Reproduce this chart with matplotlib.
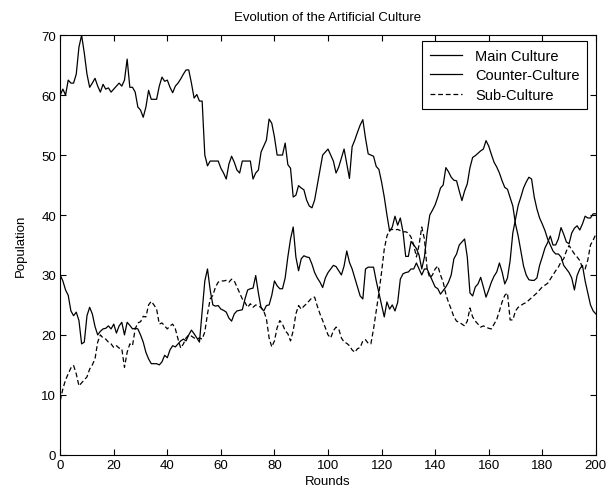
import matplotlib
matplotlib.use('Agg')
import matplotlib.pyplot as plt
import numpy as np

# population per round
main_culture = [
    60, 61, 60, 62.5, 62, 62, 63.5, 68, 70, 67,
    63.5, 61.3, 62, 62.8, 61.5, 60.5, 61.8, 61, 61.2, 60.5,
    61, 61.5, 62, 61.5, 62.5, 66, 61.3, 61.3, 60.5, 58,
    57.5, 56.3, 58, 60.8, 59.3, 59.3, 59.3, 61.5, 63, 62.3,
    62.5, 61.3, 60.4, 61.5, 62, 62.7, 63.5, 64.2, 64.2, 62,
    59.5, 60.1, 59, 59, 50, 48.2, 49, 49, 49, 49,
    47.8, 47, 46, 48.5, 49.8, 48.8, 47.5, 47, 49, 49,
    49, 49, 46, 47, 47.5, 50.5, 51.5, 52.5, 56, 55.3,
    53, 50, 50, 50, 52, 48.4, 47.8, 43, 43.3, 44.9,
    44.5, 44.2, 42.5, 41.5, 41.2, 42.5, 45, 47.6, 50, 50.5,
    51, 50, 49, 47, 48, 49.5, 51, 48.6, 46.1, 51.4,
    52.5, 53.8, 55, 55.9, 52.8, 50.2, 50, 49.8, 48.1, 47.6,
    45.5, 43, 40, 37.3, 38, 39.8, 38.3, 39.5, 37.2, 33.1,
    33.1, 35.6, 35, 34.4, 33.3, 31, 33, 37, 40, 40.8,
    41.7, 43, 44.5, 45, 47.9, 47.2, 46.3, 45.8, 45.7, 44,
    42.4, 44, 45.2, 47.9, 49.6, 49.9, 50.3, 50.7, 51, 52.4,
    51.5, 50.1, 48.8, 48, 47, 45.7, 44.6, 44.3, 42.9, 41.5,
    38.5, 36.5, 34, 31.5, 30, 29.2, 29.1, 29.1, 29.5, 31.6,
    33, 34.5, 35.4, 36.5, 35, 35, 36, 37.9, 36.8, 35.5,
    35.2, 37, 37.8, 38.2, 37.5, 38.5, 39.8, 39.5, 39.5, 40.2,
    40.2]

counter_culture = [
    30, 29, 27.5, 26.6, 24, 23.2, 23.8, 22.4, 18.5, 18.8,
    23.2, 24.6, 23.5, 21.4, 20, 20.6, 21, 21.1, 21.5, 21,
    21.8, 20.3, 21.5, 22.1, 20, 22.1, 21.6, 21, 21.1, 21,
    20, 18.8, 17.1, 16, 15.2, 15.2, 15.2, 15, 15.5, 16.6,
    16.2, 17.5, 18.2, 18, 18.5, 19, 19.3, 19, 20, 20.8,
    20.2, 19.5, 18.8, 24, 29, 31, 27.5, 25, 24.8, 24.9,
    24.3, 24.1, 23.8, 22.8, 22.3, 23.5, 24, 24.1, 24.2, 26,
    27.5, 27.7, 27.8, 29.9, 27, 24.5, 24, 24.9, 25, 26.6,
    29, 28.2, 27.7, 27.7, 29.5, 33, 36, 38, 33, 30.7,
    32.7, 33.2, 33, 32.9, 31.8, 30.4, 29.5, 28.8, 27.9, 29.5,
    30.4, 31, 31.6, 31.4, 30.7, 30, 31.5, 34, 32.1, 31,
    29.5, 28, 26.5, 26, 31, 31.3, 31.3, 31.3, 29, 27,
    25, 23, 25.5, 24.3, 25, 24, 25.4, 29.3, 30.2, 30.4,
    30.5, 31, 31, 32, 31, 30, 31, 31, 30, 29,
    28, 27.7, 26.8, 27.4, 28, 28.8, 30, 32.7, 33.5, 35,
    35.5, 36, 33, 27, 26.5, 28, 28.5, 29.6, 28, 26.3,
    27.5, 28.8, 29.8, 30.5, 32, 30.5, 28.5, 29.5, 32.4, 37,
    39.3, 41.6, 43, 44.5, 45.5, 46.3, 46, 43, 41, 39.5,
    38.5, 37.4, 36, 35, 34, 33.5, 33.5, 33, 31.6, 31,
    30.4, 29.5, 27.5, 29.9, 31, 31.6, 29, 27, 25, 24,
    23.5]

sub_culture = [
    9, 11, 12.5, 13.5, 14.5, 14.9, 13.5, 11.5, 12, 12.5,
    13, 14.3, 15, 16, 18.8, 20, 19.5, 19.3, 18.8, 18.5,
    17.9, 18.2, 17.8, 17.7, 14.6, 17.1, 18.5, 18.2, 21, 22,
    22.2, 23.1, 23, 25, 25.6, 25, 24.3, 21.8, 22, 21.5,
    21, 21.5, 21.8, 21, 19.3, 17.8, 18.5, 19.5, 20, 19.8,
    19.5, 19.3, 19.5, 19.3, 20.5, 23.5, 26, 26.6, 28, 28.8,
    29, 29, 29.1, 28.8, 29.3, 29, 28, 27, 26, 25.4,
    24.6, 25.2, 24.6, 25, 24.8, 24.6, 24, 22.7, 19.5, 18,
    19, 21.2, 22.4, 21.8, 20.7, 20.2, 19, 20.7, 23.5, 24.9,
    24.3, 24.8, 25.2, 25.7, 26.2, 26.3, 24.8, 23.5, 22.4, 21.2,
    20, 19.5, 20.7, 21.3, 21, 19.5, 18.8, 18.6, 18.2, 17.5,
    17.1, 17.7, 17.9, 19, 19.2, 18.6, 18.5, 21, 24, 27,
    30.5, 34.3, 36.5, 37.5, 37.6, 37.5, 37.6, 37.4, 37.2, 37.2,
    37, 36.3, 35, 33, 35, 38, 36, 31, 29.5, 30,
    31, 31.5, 30, 28.8, 26.8, 25.4, 24.3, 23, 22.3, 22.1,
    21.8, 21.5, 22.3, 24.5, 23, 22.3, 21.8, 21.3, 21.5, 21.3,
    21.1, 21, 21.8, 22.6, 24, 25.5, 26.6, 27, 22.5, 22.5,
    24, 24.6, 24.9, 25.2, 25.4, 25.8, 26.2, 26.6, 27, 27.5,
    28, 28.3, 28.6, 29.3, 30, 30.7, 31.3, 32.2, 32.7, 34,
    34.9, 34.2, 33.5, 33, 32.4, 31.2, 31, 32.5, 35, 35.8,
    36.8]

rounds = np.arange(len(main_culture))

plt.rcParams['font.family'] = ['Liberation Sans', 'DejaVu Sans']
plt.rcParams['lines.scale_dashes'] = False

fig = plt.figure(figsize=(6.08, 5.02), dpi=100)
ax = fig.add_axes([0.099, 0.092, 0.881, 0.836])

ax.plot(rounds, main_culture, color='black', lw=0.9, label='Main Culture')
ax.plot(rounds, counter_culture, color='black', lw=0.9, label='Counter-Culture')
ax.plot(rounds, sub_culture, color='black', lw=0.9, ls=(0, (3.5, 2)), label='Sub-Culture')

ax.set_xlim(0, 200)
ax.set_ylim(0, 70)
ax.set_xticks(np.arange(0, 201, 20))
ax.set_yticks(np.arange(0, 71, 10))
ax.tick_params(direction='in', top=True, right=True, length=4, width=0.8,
               labelsize=9.5, pad=3)
for s in ax.spines.values():
    s.set_linewidth(0.8)

ax.set_title('Evolution of the Artificial Culture', fontsize=9.5, pad=11)
ax.set_xlabel('Rounds', fontsize=9.5, labelpad=3)
ax.set_ylabel('Population', fontsize=9.5, labelpad=10)

leg = ax.legend(loc='upper right', fontsize=10.5, fancybox=False, framealpha=1,
                edgecolor='black', handlelength=2.2, handletextpad=0.9,
                bbox_to_anchor=(0.983, 0.985), borderaxespad=0,
                labelspacing=0.38, borderpad=0.5)
leg.get_frame().set_linewidth(0.8)

plt.savefig('out.png', dpi=100)
